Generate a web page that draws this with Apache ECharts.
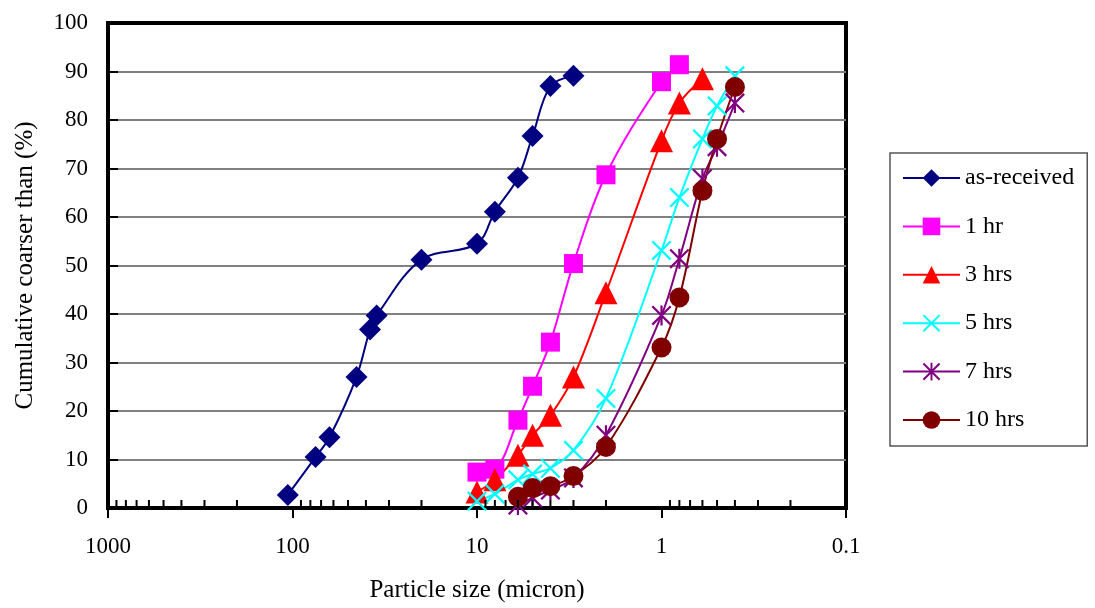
<!DOCTYPE html>
<html>
<head>
<meta charset="UTF-8">
<title>Particle size distribution</title>
<script src="https://cdn.jsdelivr.net/npm/echarts@6/dist/echarts.min.js"></script>
<style>
  body { margin: 0; background: #fff; }
  #chart { width: 1095px; height: 608px; }
</style>
</head>
<body>
<div id="chart"></div>
<script>
// particle size (micron) and cumulative coarser than (%)
var asReceivedX = [106, 75, 63, 45, 38, 35, 20, 10, 8, 6, 5, 4, 3];
var asReceivedY = [2.7, 10.5, 14.6, 27.0, 36.8, 39.7, 51.2, 54.5, 61.1, 68.1, 76.7, 87.0, 89.1];

var hr1X = [10, 8, 6, 5, 4, 3, 2, 1, 0.8];
var hr1Y = [7.4, 8.0, 18.1, 25.1, 34.2, 50.4, 68.7, 87.9, 91.4];

var hr3X = [10, 8, 6, 5, 4, 3, 2, 1, 0.8, 0.6];
var hr3Y = [3.3, 5.8, 10.9, 15.0, 19.1, 27.0, 44.4, 75.7, 83.5, 88.5];

var hr5X = [10, 8, 6, 5, 4, 3, 2, 1, 0.8, 0.6, 0.5, 0.4];
var hr5Y = [1.4, 2.9, 5.8, 7.0, 8.2, 11.9, 22.6, 53.1, 64.0, 76.1, 82.9, 89.1];

var hr7X = [6, 5, 4, 3, 2, 1, 0.8, 0.6, 0.5, 0.4];
var hr7Y = [0.6, 2.1, 3.7, 6.2, 15.0, 39.7, 51.4, 67.9, 74.5, 83.5];

var hr10X = [6, 5, 4, 3, 2, 1, 0.8, 0.6, 0.5, 0.4];
var hr10Y = [2.3, 4.1, 4.5, 6.6, 12.6, 33.1, 43.4, 65.4, 76.1, 86.8];

var seriesNames = ['as-received', '1 hr', '3 hrs', '5 hrs', '7 hrs', '10 hrs'];
var seriesColors = ['#000080', '#FF00FF', '#FF0000', '#00FFFF', '#800080', '#800000'];

// minor tick positions on the log axis
var minorTickValues = [
  0.2, 0.3, 0.4, 0.5, 0.6, 0.7, 0.8, 0.9,
  2, 3, 4, 5, 6, 7, 8, 9,
  20, 30, 40, 50, 60, 70, 80, 90,
  200, 300, 400, 500, 600, 700, 800, 900
];

var FONT = '"Liberation Serif", "DejaVu Serif", serif';

var crossPath = 'path://M0,0.8L0.8,0L10,9.2L9.2,10Z M9.2,0L10,0.8L0.8,10L0,9.2Z';
var starPath = 'path://M0,0.8L0.8,0L10,9.2L9.2,10Z M9.2,0L10,0.8L0.8,10L0,9.2Z M4.45,0L5.55,0L5.55,10L4.45,10Z';

var symbols = ['diamond', 'rect', 'triangle', crossPath, starPath, 'circle'];
var symbolSizes = [22, 19, 23, 20, 20, 20];

function pairs(xs, ys) {
  var out = [];
  for (var i = 0; i < xs.length; i++) out.push([xs[i], ys[i]]);
  return out;
}

var dataList = [
  pairs(asReceivedX, asReceivedY),
  pairs(hr1X, hr1Y),
  pairs(hr3X, hr3Y),
  pairs(hr5X, hr5Y),
  pairs(hr7X, hr7Y),
  pairs(hr10X, hr10Y)
];

var series = [];
for (var s = 0; s < dataList.length; s++) {
  series.push({
    name: seriesNames[s],
    type: 'line',
    data: dataList[s],
    smooth: 0.35,
    symbol: symbols[s],
    symbolSize: symbolSizes[s],
    showAllSymbol: true,
    lineStyle: { color: seriesColors[s], width: 2 },
    itemStyle: { color: seriesColors[s], opacity: 1 },
    emphasis: { disabled: true },
    animation: false,
    z: 3
  });
}

// minor ticks, drawn inside the plot on the x axis
series.push({
  type: 'custom',
  silent: true,
  animation: false,
  clip: false,
  z: 4,
  data: minorTickValues.map(function (v) { return [v, 0]; }),
  renderItem: function (params, api) {
    var p = api.coord([api.value(0), 0]);
    return {
      type: 'line',
      shape: { x1: p[0], y1: p[1], x2: p[0], y2: p[1] - 8 },
      style: { stroke: '#000', lineWidth: 2 }
    };
  }
});

var chart = echarts.init(document.getElementById('chart'), null, { renderer: 'canvas' });
chart.setOption({
  backgroundColor: '#fff',
  animation: false,
  grid: {
    left: 108, right: 249, top: 23, bottom: 100,
    show: true, borderColor: '#000', borderWidth: 4, backgroundColor: 'transparent'
  },
  legend: {
    orient: 'vertical',
    left: 890, top: 153,
    padding: [13, 13, 14, 12],
    itemWidth: 57,
    itemHeight: 22,
    itemGap: 24.4,
    borderColor: '#555',
    borderWidth: 1.5,
    data: seriesNames,
    textStyle: { fontFamily: FONT, fontSize: 24, color: '#000' }
  },
  xAxis: {
    type: 'log',
    logBase: 10,
    min: 0.1,
    max: 1000,
    inverse: true,
    name: 'Particle size (micron)',
    nameLocation: 'middle',
    nameGap: 70,
    nameTextStyle: { fontFamily: FONT, fontSize: 25, color: '#000' },
    axisLine: { show: true, onZero: false, lineStyle: { color: '#000', width: 4 } },
    axisTick: { show: true, inside: false, length: 10, lineStyle: { color: '#000', width: 2 } },
    axisLabel: {
      fontFamily: FONT, fontSize: 23, color: '#000', margin: 27,
      formatter: function (v) { return String(v); }
    },
    splitLine: { show: false }
  },
  yAxis: {
    type: 'value',
    min: 0,
    max: 100,
    interval: 10,
    name: 'Cumulative coarser than (%)',
    nameLocation: 'middle',
    nameGap: 70,
    nameTextStyle: { fontFamily: FONT, fontSize: 25, color: '#000' },
    axisLine: { show: true, lineStyle: { color: '#000', width: 4 } },
    axisTick: { show: true, inside: true, length: 10, lineStyle: { color: '#000', width: 2 } },
    axisLabel: { fontFamily: FONT, fontSize: 23, color: '#000', margin: 20 },
    splitLine: { show: true, showMinLine: false, showMaxLine: false, lineStyle: { color: '#808080', width: 2 } }
  },
  series: series
});
</script>
</body>
</html>
